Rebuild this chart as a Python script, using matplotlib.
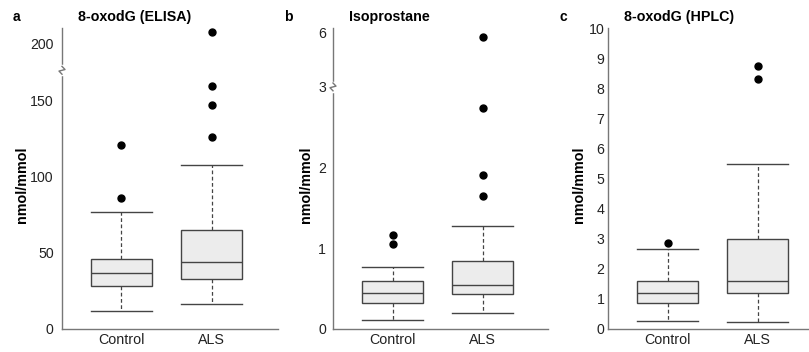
import matplotlib
matplotlib.use("Agg")
import matplotlib.pyplot as plt
import matplotlib.transforms as mtransforms

plt.rcParams['font.family'] = ['Liberation Sans', 'DejaVu Sans']

groups = ['Control', 'ALS']

# box stats: (whislo, q1, med, q3, whishi)
elisa_control = [12, 28.5, 36.6, 46, 76.8]
elisa_als = [16.2, 32.9, 44.1, 65.1, 107.7]
elisa_fliers_control = [86.4, 121]
elisa_fliers_als = [125.9, 147.4, 159.6, 213.7]

iso_control = [0.115, 0.32, 0.45, 0.60, 0.77]
iso_als = [0.20, 0.43, 0.544, 0.845, 1.28]
iso_fliers_control = [1.05, 1.16]
iso_fliers_als = [1.65, 1.91, 2.74, 5.75]

hplc_control = [0.25, 0.86, 1.19, 1.58, 2.66]
hplc_als = [0.22, 1.21, 1.60, 2.98, 5.47]
hplc_fliers_control = [2.85]
hplc_fliers_als = [8.32, 8.74]

# broken axes: (break value, compression above break, ylim top, ticks)
panels = [
    dict(letter='a', title='8-oxodG (ELISA)', stats=[elisa_control, elisa_als],
         fliers=[elisa_fliers_control, elisa_fliers_als],
         brk=170, scale=0.577, top=197.8, ticks=[0, 50, 100, 150, 200],
         rect=[62, 216], pad=6, ylab_x=22),
    dict(letter='b', title='Isoprostane', stats=[iso_control, iso_als],
         fliers=[iso_fliers_control, iso_fliers_als],
         brk=3.0, scale=0.223, top=3.73, ticks=[0, 1, 2, 3, 6],
         rect=[333, 215], pad=5, ylab_x=306),
    dict(letter='c', title='8-oxodG (HPLC)', stats=[hplc_control, hplc_als],
         fliers=[hplc_fliers_control, hplc_fliers_als],
         brk=None, scale=1, top=9.95, ticks=list(range(0, 11)),
         rect=[608, 201], pad=2.5, ylab_x=579),
]

W, H = 809, 352
fig = plt.figure(figsize=(W / 100, H / 100), dpi=100)

box_col = '#ececec'
edge_col = '#444444'
spine_col = '#777777'

for p in panels:
    brk, s = p['brk'], p['scale']

    def f(v, brk=brk, s=s):
        if brk is None or v <= brk:
            return v
        return brk + (v - brk) * s

    left, width = p['rect']
    ax = fig.add_axes([left / W, 23 / H, width / W, (329 - 28) / H])

    bstats = []
    for st, fl, lab in zip(p['stats'], p['fliers'], groups):
        lo, q1, med, q3, hi = [f(v) for v in st]
        bstats.append(dict(whislo=lo, q1=q1, med=med, q3=q3, whishi=hi,
                           fliers=[f(v) for v in fl], label=lab))

    ax.bxp(bstats, positions=[1, 2], widths=0.68, patch_artist=True,
           showfliers=True,
           boxprops=dict(facecolor=box_col, edgecolor=edge_col, linewidth=1),
           medianprops=dict(color=edge_col, linewidth=1),
           whiskerprops=dict(color=edge_col, linewidth=0.9, linestyle=(0, (3, 2))),
           capprops=dict(color=edge_col, linewidth=1),
           capwidths=0.68,
           flierprops=dict(marker='o', markerfacecolor='black',
                           markeredgecolor='black', markersize=5))

    x_left = 1 - 59.5 / 90
    x_right = 2 + (width - 59.5 - 90) / 90
    ax.set_xlim(x_left, x_right)
    ax.set_ylim(0, p['top'])
    ax.set_yticks([f(t) for t in p['ticks']])
    ax.set_yticklabels([str(t) for t in p['ticks']])
    ax.tick_params(axis='both', length=0, labelsize=10.2, colors='#222222')
    ax.tick_params(axis='y', pad=p['pad'])
    ax.tick_params(axis='x', pad=3, labelsize=10.3)
    for side in ['top', 'right']:
        ax.spines[side].set_visible(False)
    for side in ['left', 'bottom']:
        ax.spines[side].set_color(spine_col)
        ax.spines[side].set_linewidth(1)

    # axis break marker
    if brk is not None:
        trans = mtransforms.blended_transform_factory(ax.transAxes, ax.transData)
        d = p['top'] * 0.013
        ax.plot([0, 0], [brk - d, brk + d], color='white', lw=2.5,
                transform=trans, clip_on=False, zorder=5)
        ax.plot([0, -0.014, 0.014, 0], [brk - d, brk - d * 0.2, brk + d * 0.2, brk + d],
                color=spine_col, lw=1, transform=trans, clip_on=False, zorder=6)

    fig.text(p['ylab_x'] / W, 1 - 185 / H, 'nmol/mmol', rotation=90,
             ha='center', va='center', fontsize=10.4, fontweight='bold')
    fig.text((left - 49) / W, 1 - 17 / H, p['letter'], ha='left', va='center',
             fontsize=10, fontweight='bold')
    fig.text((left + 16) / W, 1 - 17 / H, p['title'], ha='left', va='center',
             fontsize=10.3, fontweight='bold')

fig.savefig('out.png', dpi=100)
